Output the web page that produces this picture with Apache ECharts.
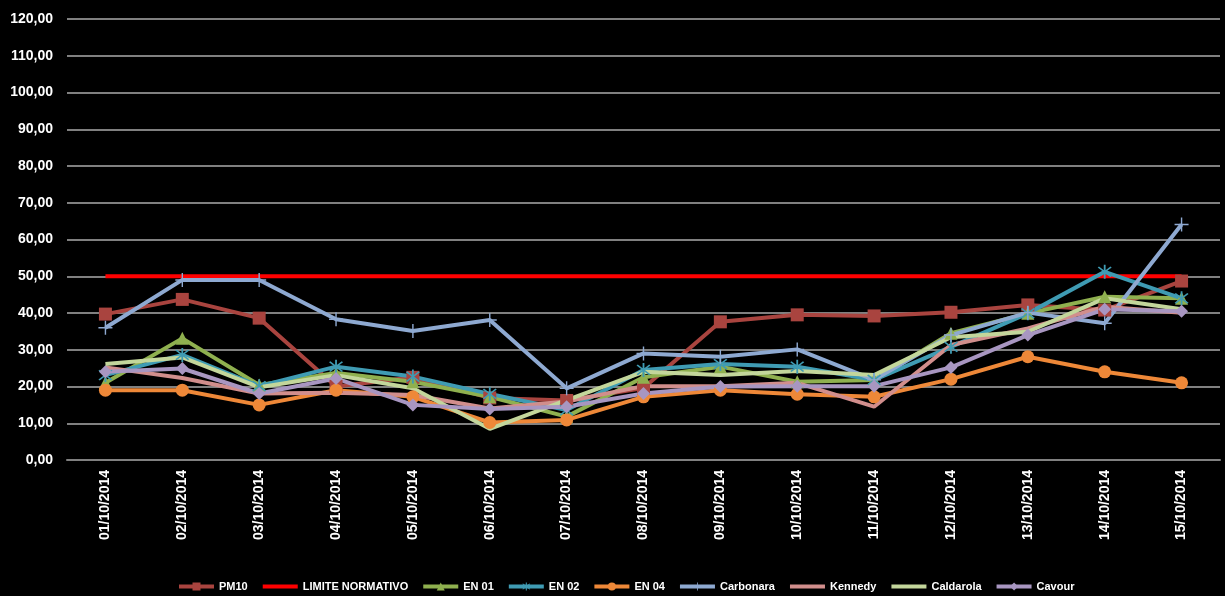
<!DOCTYPE html>
<html>
<head>
<meta charset="utf-8">
<script src="https://cdn.jsdelivr.net/npm/echarts@6/dist/echarts.min.js"></script>
<style>
    html, body { margin: 0; padding: 0; background: #000; }
    #chart { width: 1225px; height: 596px; }
</style>
</head>
<body>
<div id="chart"></div>
<script>
// giorni di campionamento
let days = ['01/10/2014', '02/10/2014', '03/10/2014', '04/10/2014', '05/10/2014', '06/10/2014', '07/10/2014',
    '08/10/2014', '09/10/2014', '10/10/2014', '11/10/2014', '12/10/2014', '13/10/2014', '14/10/2014', '15/10/2014']

let pm10 = [39.7, 43.7, 38.6, 20.0, 22.5, 16.9, 16.2, 19.6, 37.6, 39.5, 39.2, 40.2, 42.2, 40.8, 48.7]
let limite = [50, 50, 50, 50, 50, 50, 50, 50, 50, 50, 50, 50, 50, 50, 50]
let en01 = [21.0, 33.1, 20.4, 23.7, 21.3, 17.2, 11.8, 22.5, 25.4, 21.3, 21.8, 34.5, 39.9, 44.4, 44.0]
let en02 = [23.1, 28.6, 20.1, 25.4, 22.7, 18.0, 13.6, 24.5, 26.1, 25.4, 21.8, 30.8, 39.9, 51.2, 44.0]
let en04 = [19.0, 19.0, 15.0, 19.0, 17.2, 10.2, 10.9, 17.2, 19.0, 17.9, 17.2, 22.0, 28.1, 24.0, 21.0]
let carbonara = [36.0, 49.0, 49.0, 38.3, 35.1, 38.1, 19.5, 29.0, 28.1, 30.1, 21.8, 34.0, 40.1, 37.2, 64.1]
let kennedy = [25.2, 22.3, 18.1, 18.3, 17.7, 14.0, 15.9, 20.1, 20.1, 21.0, 14.5, 31.3, 35.8, 41.7, 40.1]
let caldarola = [26.1, 27.9, 19.8, 23.1, 19.5, 8.5, 16.3, 24.0, 23.1, 24.2, 23.1, 33.4, 34.9, 44.0, 41.0]
let cavour = [24.0, 24.9, 18.1, 22.2, 15.0, 13.9, 14.5, 18.1, 20.0, 20.1, 20.1, 25.2, 34.0, 41.0, 40.5]

// simboli tipo Excel
let plusPath = 'path://M-1,-10 L1,-10 L1,10 L-1,10 Z M-10,-1 L10,-1 L10,1 L-10,1 Z'
let starPath = 'path://M-1,-10 L1,-10 L1,10 L-1,10 Z M-6.3,-7.7 L7.7,6.3 L6.3,7.7 L-7.7,-6.3 Z M-7.7,6.3 L6.3,-7.7 L7.7,-6.3 L-6.3,7.7 Z'

function makeLine(name, data, color, symbol, size, width) {
    return {
        name: name,
        type: 'line',
        data: data,
        symbol: symbol,
        symbolSize: size,
        showSymbol: symbol !== 'none',
        lineStyle: { color: color, width: width || 4 },
        itemStyle: { color: color },
        emphasis: { disabled: true },
        animation: false
    }
}

// voce di legenda senza marker
function noMarker(name) {
    return { name: name, itemStyle: { opacity: 0 } }
}

let chart = echarts.init(document.getElementById('chart'))
chart.setOption({
    backgroundColor: '#000',
    textStyle: { fontFamily: 'Liberation Sans, Arial, sans-serif' },
    grid: { left: 67, right: 5, top: 19, bottom: 136 },
    legend: {
        top: 576,
        left: 172,
        itemWidth: 35,
        itemHeight: 10,
        itemGap: 13,
        lineStyle: { width: 4 },
        textStyle: { color: '#fff', fontWeight: 'bold', fontSize: 11 },
        data: ['PM10', noMarker('LIMITE NORMATIVO'), 'EN 01', 'EN 02', 'EN 04', 'Carbonara',
            noMarker('Kennedy'), noMarker('Caldarola'), 'Cavour']
    },
    xAxis: {
        type: 'category',
        data: days,
        boundaryGap: true,
        axisLine: { lineStyle: { color: '#808080', width: 2 } },
        axisTick: { show: false },
        axisLabel: { rotate: 90, color: '#fff', fontWeight: 'bold', fontSize: 14, margin: 10, interval: 0 }
    },
    yAxis: {
        type: 'value',
        min: 0,
        max: 120,
        interval: 10,
        axisLine: { show: false },
        axisTick: { show: false },
        splitLine: { lineStyle: { color: '#808080', width: 2 } },
        axisLabel: {
            color: '#fff', fontWeight: 'bold', fontSize: 14, margin: 14,
            formatter: function (v) { return v.toFixed(2).replace('.', ',') }
        }
    },
    series: [
        makeLine('PM10', pm10, '#A9443F', 'rect', 13),
        makeLine('LIMITE NORMATIVO', limite, '#FF0000', 'none', 0, 4),
        makeLine('EN 01', en01, '#8FB04F', 'triangle', 13),
        makeLine('EN 02', en02, '#3F9BB3', starPath, 14),
        makeLine('EN 04', en04, '#EE8838', 'circle', 13),
        makeLine('Carbonara', carbonara, '#8EA9D1', plusPath, 14),
        makeLine('Kennedy', kennedy, '#D18E8C', 'none', 0),
        makeLine('Caldarola', caldarola, '#C3D69B', 'none', 0),
        makeLine('Cavour', cavour, '#A896C1', 'diamond', 13)
    ]
})
</script>
</body>
</html>
